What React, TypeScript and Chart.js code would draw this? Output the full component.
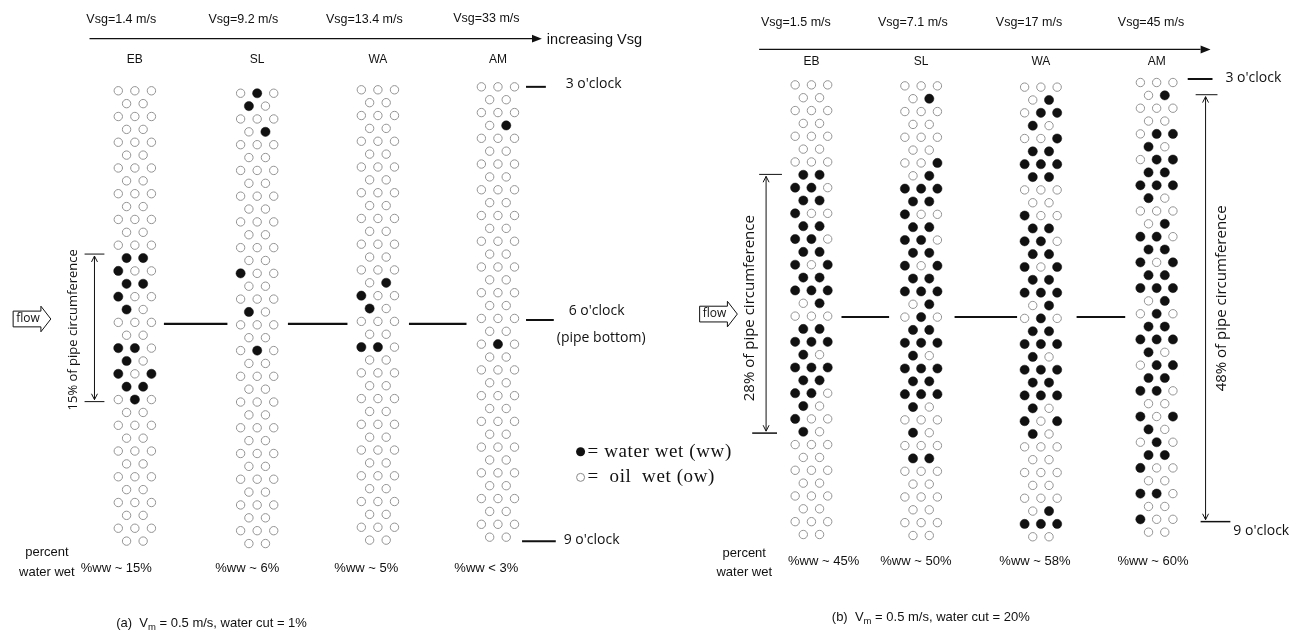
import React, { useEffect, useRef } from "react";
import { Chart, registerables } from "chart.js";

Chart.register(...registerables);

// Wettability maps: "x" = water wet (filled), "o" = oil wet (open). 36 rows, alternating 3 and 2 pins.
const A_EB = ["ooo","oo","ooo","oo","ooo","oo","ooo","oo","ooo","oo","ooo","oo","ooo","xx","xoo","xx","xoo","xo","ooo","oo","xxo","xo","xox","xx","oxo","oo","ooo","oo","ooo","oo","ooo","oo","ooo","oo","ooo","oo"];
const A_SL = ["oxo","xo","ooo","ox","ooo","oo","ooo","oo","ooo","oo","ooo","oo","ooo","oo","xoo","oo","ooo","xo","ooo","oo","oxo","oo","ooo","oo","ooo","oo","ooo","oo","ooo","oo","ooo","oo","ooo","oo","ooo","oo"];
const A_WA = ["ooo","oo","ooo","oo","ooo","oo","ooo","oo","ooo","oo","ooo","oo","ooo","oo","ooo","ox","xoo","xo","ooo","oo","xxo","oo","ooo","oo","ooo","oo","ooo","oo","ooo","oo","ooo","oo","ooo","oo","ooo","oo"];
const A_AM = ["ooo","oo","ooo","ox","ooo","oo","ooo","oo","ooo","oo","ooo","oo","ooo","oo","ooo","oo","ooo","oo","ooo","oo","oxo","oo","ooo","oo","ooo","oo","ooo","oo","ooo","oo","ooo","oo","ooo","oo","ooo","oo"];
const B_EB = ["ooo","oo","ooo","oo","ooo","oo","ooo","xx","xxo","xx","xoo","xx","xxo","xx","xox","xx","xxx","ox","ooo","xx","xxx","xo","xxx","xx","xxo","xo","xoo","xo","ooo","oo","ooo","oo","ooo","oo","ooo","oo"];
const B_SL = ["ooo","ox","ooo","oo","ooo","oo","oox","ox","xxx","xx","xoo","xx","xxo","xx","xox","xx","xxx","ox","oxo","xx","xxx","xo","xxx","xx","xxx","xo","ooo","xo","ooo","xx","ooo","oo","ooo","oo","ooo","oo"];
const B_WA = ["ooo","ox","oxx","xo","oox","xx","xxx","xx","ooo","oo","xoo","xx","xxo","xx","xox","xx","xxx","ox","oxo","xx","xxx","xo","xxx","xx","xxx","xo","xox","xo","ooo","oo","ooo","oo","ooo","ox","xxx","oo"];
const B_AM = ["ooo","ox","ooo","oo","oxx","xo","oxx","xx","xxx","xo","ooo","ox","xxo","xx","xox","xx","xxx","ox","oxo","xx","xxx","xo","oxx","xx","xxo","oo","xox","xo","oxo","xx","xoo","oo","xxo","oo","xoo","oo"];

const regimes = ["EB", "SL", "WA", "AM"];
const vsgA = ["Vsg=1.4 m/s", "Vsg=9.2 m/s", "Vsg=13.4 m/s", "Vsg=33 m/s"];
const vsgB = ["Vsg=1.5 m/s", "Vsg=7.1 m/s", "Vsg=17 m/s", "Vsg=45 m/s"];
const wwA = ["%ww ~ 15%", "%ww ~ 6%", "%ww ~ 5%", "%ww < 3%"];
const wwB = ["%ww ~ 45%", "%ww ~ 50%", "%ww ~ 58%", "%ww ~ 60%"];

const panelA = [A_EB, A_SL, A_WA, A_AM];
const panelB = [B_EB, B_SL, B_WA, B_AM];

// layout (pixel units of the full-canvas scales)
const W = 1306, H = 637;
const colA = { cx: [130.7, 254, 375.7, 496.7], top: [87, 89.5, 86, 83], dx: 16.7, dy: 13.08 };
const colB = { cx: [812.7, 923.3, 1044, 1160.7], top: [81, 82, 83.3, 78.6], dx: 16.4, dy: 13.06 };

function buildPoints(panel: string[][], lay: typeof colA) {
  const wet: { x: number; y: number }[] = [];
  const oil: { x: number; y: number }[] = [];
  panel.forEach((rows, c) => {
    rows.forEach((row, r) => {
      const n = row.length;
      for (let k = 0; k < n; k++) {
        const x = lay.cx[c] + (k - (n - 1) / 2) * lay.dx;
        const y = lay.top[c] + r * lay.dy;
        (row[k] === "x" ? wet : oil).push({ x, y });
      }
    });
  });
  return { wet, oil };
}

const SANS = "'Liberation Sans', Arial, sans-serif";
const HUM = "'Open Sans', 'Noto Sans', sans-serif";
const SERIF = "'Liberation Serif', 'Times New Roman', serif";

export default function App() {
  const ref = useRef<HTMLCanvasElement | null>(null);
  useEffect(() => {
    document.body.style.margin = "0";
    const a = buildPoints(panelA, colA);
    const b = buildPoints(panelB, colB);

    const annot = {
      id: "annot",
      afterDatasetsDraw(chart: any) {
        const ctx: CanvasRenderingContext2D = chart.ctx;
        const xs = chart.scales.x, ys = chart.scales.y;
        const X = (v: number) => xs.getPixelForValue(v);
        const Y = (v: number) => ys.getPixelForValue(v);
        ctx.save();
        const text = (t: string, x: number, y: number, font: string, align: CanvasTextAlign = "center", color = "#111", spacing = "0px") => {
          ctx.font = font; ctx.fillStyle = color; ctx.textAlign = align; ctx.textBaseline = "middle";
          (ctx as any).letterSpacing = spacing;
          ctx.fillText(t, X(x), Y(y));
          (ctx as any).letterSpacing = "0px";
        };
        const line = (x1: number, y1: number, x2: number, y2: number, w = 1, color = "#111") => {
          ctx.beginPath(); ctx.strokeStyle = color; ctx.lineWidth = w;
          ctx.moveTo(X(x1), Y(y1)); ctx.lineTo(X(x2), Y(y2)); ctx.stroke();
        };
        const headR = (x: number, y: number, len: number, hw: number) => {
          ctx.beginPath(); ctx.fillStyle = "#111";
          ctx.moveTo(X(x), Y(y)); ctx.lineTo(X(x - len), Y(y - hw)); ctx.lineTo(X(x - len), Y(y + hw)); ctx.closePath(); ctx.fill();
        };
        const headV = (x: number, y: number, dir: number) => {
          ctx.beginPath(); ctx.strokeStyle = "#111"; ctx.lineWidth = 1;
          ctx.moveTo(X(x - 3), Y(y - dir * 6)); ctx.lineTo(X(x), Y(y)); ctx.lineTo(X(x + 3), Y(y - dir * 6)); ctx.stroke();
        };
        const vtext = (t: string, x: number, y: number, font: string) => {
          ctx.save(); ctx.translate(X(x), Y(y)); ctx.rotate(-Math.PI / 2);
          ctx.font = font; ctx.fillStyle = "#111"; ctx.textAlign = "center"; ctx.textBaseline = "middle";
          ctx.fillText(t, 0, 0); ctx.restore();
        };
        const flow = (x: number, y: number) => {
          ctx.beginPath(); ctx.strokeStyle = "#111"; ctx.lineWidth = 1; ctx.fillStyle = "#fff";
          ctx.moveTo(X(x), Y(y - 8)); ctx.lineTo(X(x + 28), Y(y - 8)); ctx.lineTo(X(x + 28), Y(y - 13));
          ctx.lineTo(X(x + 38), Y(y)); ctx.lineTo(X(x + 28), Y(y + 13)); ctx.lineTo(X(x + 28), Y(y + 8));
          ctx.lineTo(X(x), Y(y + 8)); ctx.closePath(); ctx.fill(); ctx.stroke();
          text("flow", x + 15, y, `12px ${HUM}`);
        };
        const vm = (prefix: string, suffix: string, cx: number, y: number) => {
          const f1 = `13px ${SANS}`, f2 = `9.5px ${SANS}`;
          ctx.font = f1; const w1 = ctx.measureText(prefix + "V").width; const w3 = ctx.measureText(suffix).width;
          ctx.font = f2; const w2 = ctx.measureText("m").width;
          let x0 = X(cx) - (w1 + w2 + w3) / 2;
          ctx.textBaseline = "alphabetic"; ctx.textAlign = "left"; ctx.fillStyle = "#111";
          ctx.font = f1; ctx.fillText(prefix + "V", x0, Y(y) + 5); x0 += w1;
          ctx.font = f2; ctx.fillText("m", x0, Y(y) + 8); x0 += w2;
          ctx.font = f1; ctx.fillText(suffix, x0, Y(y) + 5);
        };

        // ---- panel (a)
        const vsgAx = [117, 240, 362, 485];
        vsgA.forEach((t, i) => text(t, vsgAx[i], i === 3 ? 14 : 15, `12.5px ${SANS}`));
        line(85, 34, 532, 34, 1.2); headR(541, 34, 10, 4);
        text("increasing Vsg", 546, 35, `14.5px ${SANS}`, "left");
        regimes.forEach((t, i) => text(t, colA.cx[i], 55, `12px ${SANS}`));
        [[160, 224], [285, 345], [407, 465]].forEach(([p, q]) => line(p, 324, q, 324, 2.2));
        line(525, 83, 545, 83, 2); text("3 o'clock", 565, 80, `14px ${HUM}`, "left");
        line(525, 320, 553, 320, 2); text("6 o'clock", 568, 311, `14px ${HUM}`, "left");
        text("(pipe bottom)", 556, 338, `14px ${HUM}`, "left");
        line(521, 545, 555, 545, 2); text("9 o'clock", 563, 544, `14px ${HUM}`, "left");
        flow(8, 319);
        line(90, 255, 90, 401, 1); headV(90, 255, -1); headV(90, 401, 1);
        line(80, 253, 100, 253, 1); line(80, 403, 100, 403, 1);
        vtext("15% of pipe circumference", 69, 330, `13px ${HUM}`);
        text("percent", 42, 556, `13px ${SANS}`); text("water wet", 42, 577, `13px ${SANS}`);
        const wwAx = [112, 244, 364, 485];
        wwA.forEach((t, i) => text(t, wwAx[i], 573, `13px ${SANS}`));
        vm("(a)  ", " = 0.5 m/s, water cut = 1%", 208, 627);

        // legend
        ctx.beginPath(); ctx.fillStyle = "#111"; ctx.arc(X(580), Y(454), 4.5, 0, Math.PI * 2); ctx.fill();
        text("= water wet (ww)", 587, 454, `19px ${SERIF}`, "left", "#111", "0.6px");
        ctx.beginPath(); ctx.strokeStyle = "#888"; ctx.lineWidth = 1; ctx.arc(X(580), Y(480), 4, 0, Math.PI * 2); ctx.stroke();
        text("=  oil  wet (ow)", 587, 480, `19px ${SERIF}`, "left", "#111", "0.6px");

        // ---- panel (b)
        const vsgBx = [797, 915, 1032, 1155];
        vsgB.forEach((t, i) => text(t, vsgBx[i], 18, `12.5px ${SANS}`));
        line(760, 45, 1205, 45, 1.2); headR(1215, 45, 10, 4);
        regimes.forEach((t, i) => text(t, colB.cx[i], 57, `12px ${SANS}`));
        [[843, 891], [957, 1020], [1080, 1129]].forEach(([p, q]) => line(p, 317, q, 317, 2.2));
        line(1192, 75, 1217, 75, 2); text("3 o'clock", 1230, 74, `14px ${HUM}`, "left");
        line(1200, 91, 1222, 91, 1);
        line(1210, 93, 1210, 523, 1); headV(1210, 93, -1); headV(1210, 523, 1);
        line(1205, 525, 1235, 525, 1.5);
        vtext("48% of pipe circumference", 1226, 298, `15px ${HUM}`);
        text("9 o'clock", 1238, 535, `14px ${HUM}`, "left");
        flow(700, 314);
        line(767, 174, 767, 433, 1); headV(767, 174, -1); headV(767, 433, 1);
        line(760, 172, 783, 172, 1); line(753, 435, 778, 435, 1.5);
        vtext("28% of pipe circumference", 751, 308, `15px ${HUM}`);
        text("percent", 745, 557, `13px ${SANS}`); text("water wet", 745, 577, `13px ${SANS}`);
        const wwBx = [825, 918, 1038, 1157];
        wwB.forEach((t, i) => text(t, wwBx[i], 565, `13px ${SANS}`));
        vm("(b)  ", " = 0.5 m/s, water cut = 20%", 933, 621);
        ctx.restore();
      },
    };

    const chart = new Chart(ref.current as HTMLCanvasElement, {
      type: "scatter",
      data: {
        datasets: [
          { label: "oil wet", data: [...a.oil, ...b.oil], pointRadius: 4.2, pointBackgroundColor: "#fff", pointBorderColor: "#939393", pointBorderWidth: 1 },
          { label: "water wet", data: [...a.wet, ...b.wet], pointRadius: 4.6, pointBackgroundColor: "#111", pointBorderColor: "#111", pointBorderWidth: 0.5 },
        ],
      },
      options: {
        responsive: false,
        animation: false,
        devicePixelRatio: 1,
        layout: { padding: 0 },
        plugins: { legend: { display: false }, tooltip: { enabled: false }, title: { display: false } },
        scales: {
          x: { type: "linear", min: 0, max: W, display: false },
          y: { type: "linear", min: 0, max: H, reverse: true, display: false },
        },
      },
      plugins: [annot],
    });
    return () => chart.destroy();
  }, []);
  return (
    <div style={{ width: W, height: H, background: "#fff" }}>
      <canvas ref={ref} width={W} height={H} style={{ display: "block" }} />
    </div>
  );
}
